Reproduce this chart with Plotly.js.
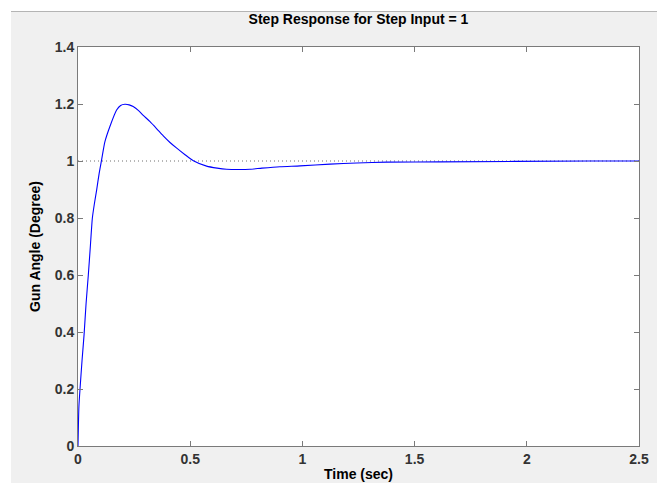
<!DOCTYPE html>
<html>
<head>
<meta charset="utf-8">
<script src="https://cdn.plot.ly/plotly-3.0.1.min.js"></script>
<style>
  html, body { margin: 0; padding: 0; background: #ffffff; width: 657px; height: 483px; overflow: hidden; }
  #topline { position: absolute; left: 11px; top: 11px; width: 646px; height: 1px; background: #b4b4b4; }
  #chart { position: absolute; left: 11px; top: 12px; width: 646px; height: 471px; }
</style>
</head>
<body>
<div id="topline"></div>
<div id="chart"></div>
<script>
// Step response samples
const timeSec = [0, 0.004, 0.009, 0.018, 0.027, 0.036, 0.046, 0.055, 0.064, 0.073, 0.083, 0.094, 0.105, 0.12, 0.143, 0.172, 0.19, 0.209, 0.228, 0.246, 0.27, 0.291, 0.321, 0.351, 0.38, 0.41, 0.44, 0.477, 0.514, 0.573, 0.62, 0.662, 0.72, 0.766, 0.82, 0.9, 0.99, 1.123, 1.242, 1.376, 1.613, 2.28, 2.5];
const gunAngle = [0, 0.138, 0.2, 0.3, 0.39, 0.5, 0.6, 0.7, 0.8, 0.85, 0.898, 0.955, 1.003, 1.068, 1.123, 1.179, 1.195, 1.199, 1.197, 1.191, 1.177, 1.16, 1.138, 1.113, 1.088, 1.065, 1.045, 1.022, 1.001, 0.982, 0.975, 0.971, 0.97, 0.971, 0.975, 0.98, 0.983, 0.989, 0.993, 0.996, 0.997, 1.0, 1.0];
// Reference (steady-state) line
const refTime = [0, 2.5];
const refValue = [1, 1];
const xTicks = [0, 0.5, 1, 1.5, 2, 2.5];
const xTickText = ['0', '0.5', '1', '1.5', '2', '2.5'];
const yTicks = [0, 0.2, 0.4, 0.6, 0.8, 1, 1.2, 1.4];
const yTickText = ['0', '0.2', '0.4', '0.6', '0.8', '1', '1.2', '1.4'];

const FONT = 'Liberation Sans, Arial, sans-serif';

const traces = [
  {
    x: refTime, y: refValue, mode: 'lines', type: 'scatter',
    line: { color: '#6e6e6e', width: 1, dash: '1px,3px' },
    hoverinfo: 'skip', showlegend: false
  },
  {
    x: timeSec, y: gunAngle, mode: 'lines', type: 'scatter',
    line: { color: '#0000ff', width: 1.1, shape: 'spline', smoothing: 0.6 },
    showlegend: false
  }
];

const axisCommon = {
  showgrid: false, zeroline: false,
  showline: true, linecolor: '#7a7a7a', linewidth: 1, mirror: 'ticks',
  ticks: 'inside', ticklen: 5, tickwidth: 1, tickcolor: '#7a7a7a',
  tickfont: { family: FONT, size: 14, color: '#333333', weight: 'bold' },
  tickmode: 'array'
};

const layout = {
  width: 646, height: 471,
  paper_bgcolor: '#f0f0f0', plot_bgcolor: '#ffffff',
  margin: { l: 67, r: 18, t: 35, b: 37 },
  showlegend: false,
  title: {
    text: '<b>Step Response for Step Input = 1</b>',
    font: { family: FONT, size: 14, color: '#000000' },
    xref: 'paper', x: 0.5, xanchor: 'center',
    yref: 'container', y: 1 - 7 / 471, yanchor: 'middle'
  },
  xaxis: Object.assign({}, axisCommon, {
    range: [0, 2.5], tickvals: xTicks, ticktext: xTickText,
    title: { text: '<b>Time (sec)</b>', font: { family: FONT, size: 14, color: '#000000' }, standoff: 3 }
  }),
  yaxis: Object.assign({}, axisCommon, {
    range: [0, 1.4], tickvals: yTicks, ticktext: yTickText,
    title: { text: '<b>Gun Angle (Degree)</b>', font: { family: FONT, size: 14, color: '#000000' }, standoff: 10 }
  })
};

Plotly.newPlot('chart', traces, layout, { displayModeBar: false, staticPlot: true });
</script>
</body>
</html>
